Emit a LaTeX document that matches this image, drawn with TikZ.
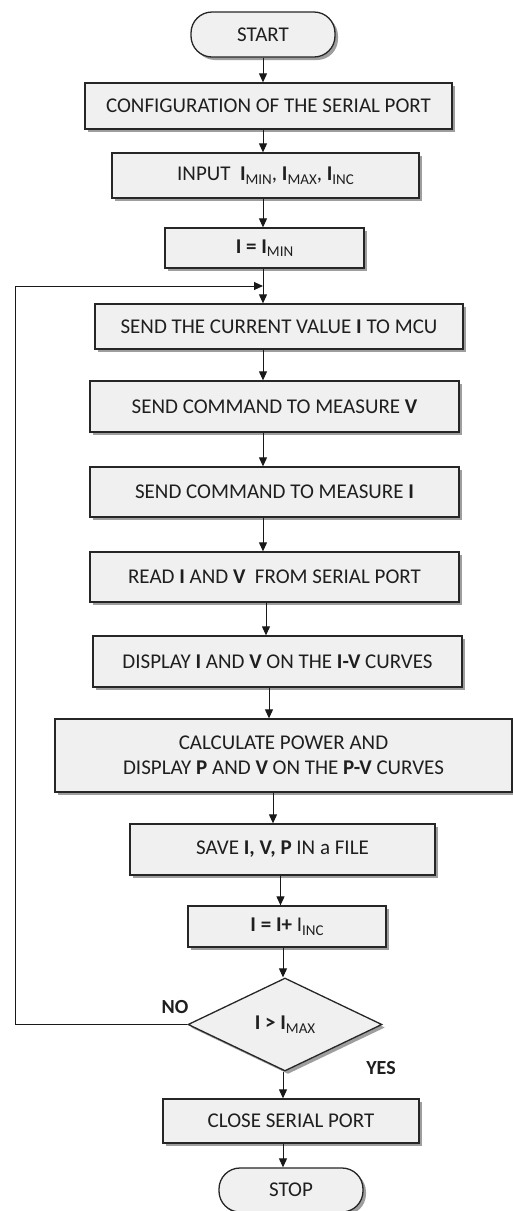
\documentclass[tikz,border=0pt]{standalone}
\usepackage{fontspec}
\setmainfont{Carlito}
\usetikzlibrary{arrows.meta,shapes.geometric,shadows}
\newcommand\lowsub[1]{\raisebox{-0.35ex}{\fontsize{15}{15}\selectfont #1}}
\begin{document}
\begin{tikzpicture}[x=1pt,y=-1pt,
  shade/.style={drop shadow={shadow xshift=3pt,shadow yshift=-3pt,fill=black!38,opacity=1}},
  box/.style={shade,draw=black!85,line width=1.3pt,fill=black!6,inner sep=0pt,align=center,
    text=black!88,font=\fontsize{21}{25}\selectfont},
  term/.style={box,rounded corners=21pt},
  decis/.style={box,diamond,aspect=2.08},
  arr/.style={draw=black!90,line width=1pt,-{Triangle[length=9pt,width=8pt]}},
  lab/.style={font=\fontsize{20}{24}\selectfont\bfseries,text=black!88,inner sep=0pt}]
\useasboundingbox (0,0) rectangle (513,1211);
\fill[white] (0,0) rectangle (513,1211);

\node[term,minimum width=144pt,minimum height=45pt] (start) at (263,34.5) {START};
\node[box,minimum width=367pt,minimum height=46pt] (config) at (268.5,106) {CONFIGURATION OF THE SERIAL PORT};
\node[box,minimum width=307pt,minimum height=45pt] (input) at (265.5,175.5) {INPUT~~\textbf{I}\lowsub{MIN}, \textbf{I}\lowsub{MAX}, \textbf{I}\lowsub{INC}};
\node[box,minimum width=199pt,minimum height=40pt] (imin) at (264.5,248) {\textbf{I = I}\lowsub{MIN}};
\node[box,minimum width=368pt,minimum height=45pt] (send) at (279,326.5) {SEND THE CURRENT VALUE \textbf{I} TO MCU};
\node[box,minimum width=369pt,minimum height=51pt] (sendv) at (274.5,406.5) {SEND COMMAND TO MEASURE \textbf{V}};
\node[box,minimum width=369pt,minimum height=50pt] (sendi) at (274.5,492) {SEND COMMAND TO MEASURE \textbf{I}};
\node[box,minimum width=369pt,minimum height=50pt] (read) at (274.5,577) {READ \textbf{I} AND \textbf{V}~ FROM SERIAL PORT};
\node[box,minimum width=369pt,minimum height=51pt] (disp) at (277.5,661.5) {DISPLAY \textbf{I} AND \textbf{V} ON THE \textbf{I-V} CURVES};
\node[box,minimum width=457pt,minimum height=73pt] (calc) at (283.5,755.5) {CALCULATE POWER AND\\DISPLAY \textbf{P} AND \textbf{V} ON THE \textbf{P-V} CURVES};
\node[box,minimum width=305pt,minimum height=51pt] (save) at (282.5,849.5) {SAVE \textbf{I, V, P} IN a FILE};
\node[box,minimum width=198pt,minimum height=41pt] (inc) at (287,926.5) {\textbf{I = I+} I\lowsub{INC}};
\node[decis,minimum width=194pt,minimum height=93pt] (dec) at (285,1024.5) {\textbf{I > I}\lowsub{MAX}};
\node[box,minimum width=256pt,minimum height=44pt] (close) at (291,1121) {CLOSE SERIAL PORT};
\node[term,minimum width=144pt,minimum height=44pt] (stop) at (291,1190) {STOP};

\node[lab] (no) at (175,1007) {NO};
\node[lab] (yes) at (381,1068) {YES};

\coordinate (vA) at (263,0);
\coordinate (vB) at (266,0);
\coordinate (vC) at (269,0);
\coordinate (vD) at (273,0);
\coordinate (vE) at (280.5,0);
\coordinate (vF) at (283,0);
\coordinate (joint) at (263,286);
\coordinate (lc) at (15,286);

\draw[arr] (start.south -| vA) -- (config.north -| vA);
\draw[arr] (config.south -| vA) -- (input.north -| vA);
\draw[arr] (input.south -| vA) -- (imin.north -| vA);
\draw[arr] (imin.south -| vA) -- (send.north -| vA);
\draw[arr] (send.south -| vA) -- (sendv.north -| vA);
\draw[arr] (sendv.south -| vA) -- (sendi.north -| vA);
\draw[arr] (sendi.south -| vA) -- (read.north -| vA);
\draw[arr] (read.south -| vB) -- (disp.north -| vB);
\draw[arr] (disp.south -| vC) -- (calc.north -| vC);
\draw[arr] (calc.south -| vD) -- (save.north -| vD);
\draw[arr] (save.south -| vE) -- (inc.north -| vE);
\draw[arr] (inc.south -| vF) -- (dec.north -| vF);
\draw[arr] (dec.south -| vF) -- (close.north -| vF);
\draw[arr] (close.south -| vF) -- (stop.north -| vF);
\draw[arr] (dec.west) -| (lc) -- (joint);
\end{tikzpicture}
\end{document}
